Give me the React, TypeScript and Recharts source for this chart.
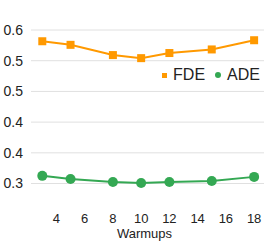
import React from "react";
import { CartesianGrid, Line, LineChart, XAxis, YAxis } from "recharts";

const warmups = [3, 5, 8, 10, 12, 15, 18];
const fdeValues = [0.578, 0.571, 0.551, 0.545, 0.555, 0.562, 0.58];
const adeValues = [0.315, 0.309, 0.303, 0.301, 0.303, 0.305, 0.313];
const xTicks = [4, 6, 8, 10, 12, 14, 16, 18];
const yTicks = [0.3, 0.36, 0.42, 0.48, 0.54, 0.6];

const FDE_COLOR = "#ff9900";
const ADE_COLOR = "#34a853";
const FONT = '"Liberation Sans", Arial, sans-serif';

const data = warmups.map((w, i) => ({ warmups: w, FDE: fdeValues[i], ADE: adeValues[i] }));

function SquareDot(props: any) {
  const { cx, cy, index } = props;
  if (cx == null || cy == null) return null;
  return <rect key={`sq-${index}`} x={cx - 4} y={cy - 4} width={8} height={8} fill={FDE_COLOR} />;
}

// legend drawn over the plot, like the original
function ChartLegend() {
  const text = { fontSize: 16, color: "#222", fontFamily: FONT, lineHeight: "18px" };
  return (
    <div style={{ position: "absolute", top: 66, right: 9, display: "flex", alignItems: "center" }}>
      <span style={{ width: 5, height: 5, background: FDE_COLOR, marginRight: 6 }} />
      <span style={text}>FDE</span>
      <span style={{ width: 6, height: 6, borderRadius: 3, background: ADE_COLOR, marginLeft: 10, marginRight: 6 }} />
      <span style={text}>ADE</span>
    </div>
  );
}

export default function App() {
  return (
    <div style={{ position: "absolute", left: 0, top: 0, width: 269, height: 243, background: "#fff" }}>
      <LineChart width={269} height={243} data={data} margin={{ top: 30, right: 5, bottom: 0, left: 0 }}>
        <CartesianGrid stroke="#e0e0e0" vertical={false} horizontalValues={yTicks} />
        <XAxis
          dataKey="warmups"
          type="number"
          domain={[2.2, 18.7]}
          ticks={xTicks}
          allowDataOverflow
          axisLine={false}
          tickLine={false}
          tickMargin={4}
          height={39}
          tick={{ fontSize: 13, fill: "#222", fontFamily: FONT }}
          label={{ value: "Warmups", position: "insideBottom", offset: 5, dx: -3, fontSize: 13, fill: "#222", fontFamily: FONT }}
        />
        <YAxis
          domain={[0.26, 0.6]}
          ticks={yTicks}
          allowDataOverflow
          axisLine={false}
          tickLine={false}
          width={31}
          tickFormatter={(v: number) => v.toFixed(1)}
          tick={{ fontSize: 14, fill: "#222", fontFamily: FONT }}
        />
        <Line dataKey="FDE" stroke={FDE_COLOR} strokeWidth={2} dot={<SquareDot />} activeDot={false} isAnimationActive={false} />
        <Line dataKey="ADE" stroke={ADE_COLOR} strokeWidth={2} dot={{ r: 5, fill: ADE_COLOR, stroke: "none" }} activeDot={false} isAnimationActive={false} />
      </LineChart>
      <ChartLegend />
    </div>
  );
}
